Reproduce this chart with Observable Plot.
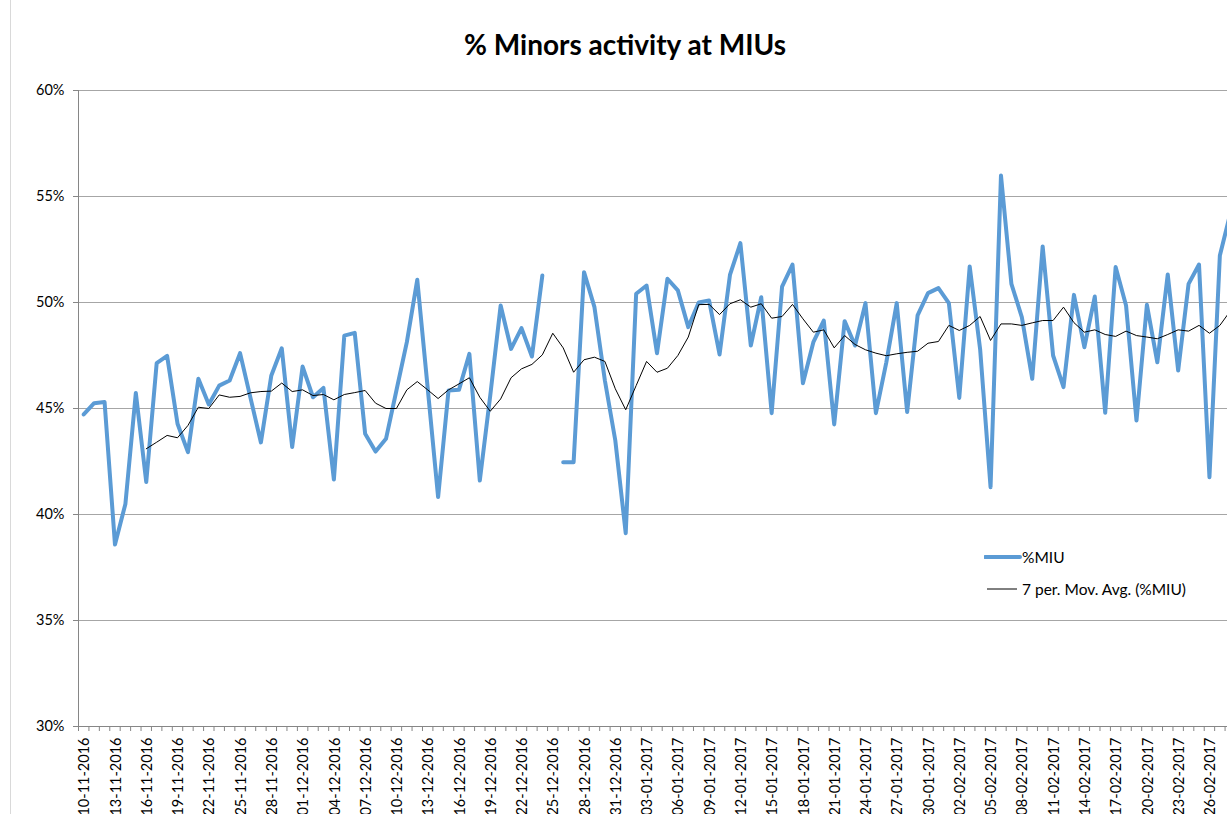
<!DOCTYPE html>
<html>
<head>
<meta charset="utf-8">
<script src="https://cdn.jsdelivr.net/npm/d3@7"></script>
<script src="https://cdn.jsdelivr.net/npm/@observablehq/plot@0.6"></script>
<style>
  html, body { margin: 0; padding: 0; background: #fff; overflow: hidden; width: 1227px; height: 814px; }
  #border { position: absolute; left: 10px; top: -2px; width: 1400px; height: 900px; border: 1px solid #d9d9d9; }
  #title { position: absolute; left: 0; top: 27px; width: 1250px; text-align: center; font: bold 28px Lato, sans-serif; line-height: 34px; color: #000; }
  #chart { position: absolute; left: 0; top: 70px; width: 1245px; height: 780px; }
  #chart svg { max-width: none !important; }
  .leg { position: absolute; font: 15.5px Lato, sans-serif; color: #000; line-height: 18px; white-space: nowrap; }
  .legline { position: absolute; }
</style>
</head>
<body>
<div id="border"></div>
<div id="title">% Minors activity at MIUs</div>
<div id="chart"></div>
<svg class="legline" style="left:984px;top:552px" width="40" height="10"><line x1="1" y1="5" x2="36" y2="5" stroke="#5b9bd5" stroke-width="4" stroke-linecap="round"/></svg>
<div class="leg" style="left:1022px;top:548px">%MIU</div>
<svg class="legline" style="left:984px;top:584px" width="40" height="10"><line x1="3" y1="5" x2="33" y2="5" stroke="#000" stroke-width="1"/></svg>
<div class="leg" style="left:1022px;top:580px">7 per. Mov. Avg. (%MIU)</div>
<script>
// Categories: one per day
const startDate = "2016-11-10";
const endDate = "2017-02-28";

// %MIU daily values (percent); null = missing day
const miuValues = [
  44.72, 45.25, 45.31, 38.58, 40.5, 45.73, 41.53, 47.14, 47.48, 44.28,
  42.94, 46.4, 45.19, 46.08, 46.32, 47.61, 45.5, 43.4, 46.56, 47.84,
  43.18, 46.98, 45.53, 45.97, 41.65, 48.44, 48.57, 43.81, 42.97, 43.57,
  45.85, 48.13, 51.07, 45.97, 40.82, 45.85, 45.88, 47.58, 41.6, 45.6,
  49.86, 47.81, 48.79, 47.45, 51.27, null, 42.47, 42.47, 51.43, 49.78,
  46.32, 43.49, 39.12, 50.41, 50.8, 47.61, 51.12, 50.57, 48.84, 50.0,
  50.09, 47.55, 51.3, 52.8, 47.97, 50.25, 44.78, 50.75, 51.79, 46.19,
  48.13, 49.15, 44.25, 49.12, 47.97, 49.97, 44.78, 47.18, 49.97, 44.83,
  49.39, 50.44, 50.68, 49.97, 45.5, 51.7, 47.8, 41.29, 55.99, 50.88,
  49.31, 46.4, 52.64, 47.5, 46.01, 50.36, 47.89, 50.28, 44.8, 51.67,
  49.86, 44.43, 49.89, 47.18, 51.32, 46.79, 50.88, 51.79, 41.76, 52.22,
  54.2
];

// 7 per. Mov. Avg. (%MIU)
const maValues = [
  null, null, null, null, null, null, 43.1, 43.41, 43.73, 43.62,
  44.2, 45.06, 45.0, 45.64, 45.53, 45.57, 45.74, 45.8, 45.82, 46.2,
  45.8, 45.88, 45.61, 45.66, 45.41, 45.66, 45.75, 45.85, 45.25, 45.0,
  45.0, 45.88, 46.27, 45.88, 45.47, 45.88, 46.16, 46.45, 45.53, 44.87,
  45.45, 46.45, 46.87, 47.08, 47.53, 48.55, 47.86, 46.71, 47.3, 47.42,
  47.22, 45.93, 44.94, 46.08, 47.22, 46.71, 46.9, 47.5, 48.37, 49.9,
  49.91, 49.43, 49.94, 50.13, 49.78, 49.94, 49.26, 49.34, 49.91, 49.23,
  48.6, 48.71, 47.86, 48.44, 48.02, 47.77, 47.61, 47.49, 47.58, 47.65,
  47.7, 48.08, 48.16, 48.92, 48.68, 48.92, 49.34, 48.21, 48.99, 48.99,
  48.92, 49.04, 49.15, 49.15, 49.78, 49.05, 48.6, 48.71, 48.49, 48.4,
  48.65, 48.44, 48.37, 48.29, 48.49, 48.71, 48.65, 48.92, 48.55, 48.92,
  49.6
];

const yTicks = [30, 35, 40, 45, 50, 55, 60];

const dates = d3.utcDay.range(new Date(startDate), d3.utcDay.offset(new Date(endDate), 1));
const rows = dates.map((d, i) => ({date: d, miu: miuValues[i], ma: maValues[i]}));
const tickDates = dates.filter((d, i) => i % 3 === 0);
const boundaries = dates.map(d => d3.utcHour.offset(d, -12)).concat([d3.utcHour.offset(dates[dates.length - 1], 12)]);
const xDomain = [boundaries[0], boundaries[boundaries.length - 1]];
const fmt = d3.utcFormat("%d-%m-%Y");

const chart = Plot.plot({
  width: 1245,
  height: 770,
  marginTop: 20,
  marginLeft: 78,
  marginRight: 10,
  marginBottom: 114,
  style: {fontFamily: "Lato, sans-serif", fontSize: "14.5px", background: "transparent", color: "#000", overflow: "visible", maxWidth: "none"},
  x: {type: "utc", domain: xDomain, label: null},
  y: {domain: [30, 60], label: null},
  marks: [
    Plot.ruleY(yTicks.filter(v => v > 30), {stroke: "#a6a6a6", strokeWidth: 1}),
    Plot.ruleY([30], {stroke: "#868686", strokeWidth: 1}),
    Plot.ruleX([xDomain[0]], {y1: 30, y2: 60, stroke: "#868686", strokeWidth: 1}),
    Plot.axisY({ticks: yTicks, tickFormat: d => d + "%", tickSize: 5, tickPadding: 9, stroke: "#868686", fontSize: 14.5, label: null}),
    Plot.axisX({ticks: boundaries, tickSize: 5, tickFormat: () => "", stroke: "#868686", label: null}),
    Plot.axisX({ticks: tickDates, tickSize: 0, tickPadding: 11, tickRotate: -90, tickFormat: fmt, fontSize: 14.5, dx: 1, label: null}),
    Plot.lineY(rows, {x: "date", y: "miu", stroke: "#5b9bd5", strokeWidth: 4, strokeLinejoin: "round", strokeLinecap: "round"}),
    Plot.lineY(rows, {x: "date", y: "ma", stroke: "#000", strokeWidth: 1})
  ]
});
document.getElementById("chart").appendChild(chart);
</script>
</body>
</html>
